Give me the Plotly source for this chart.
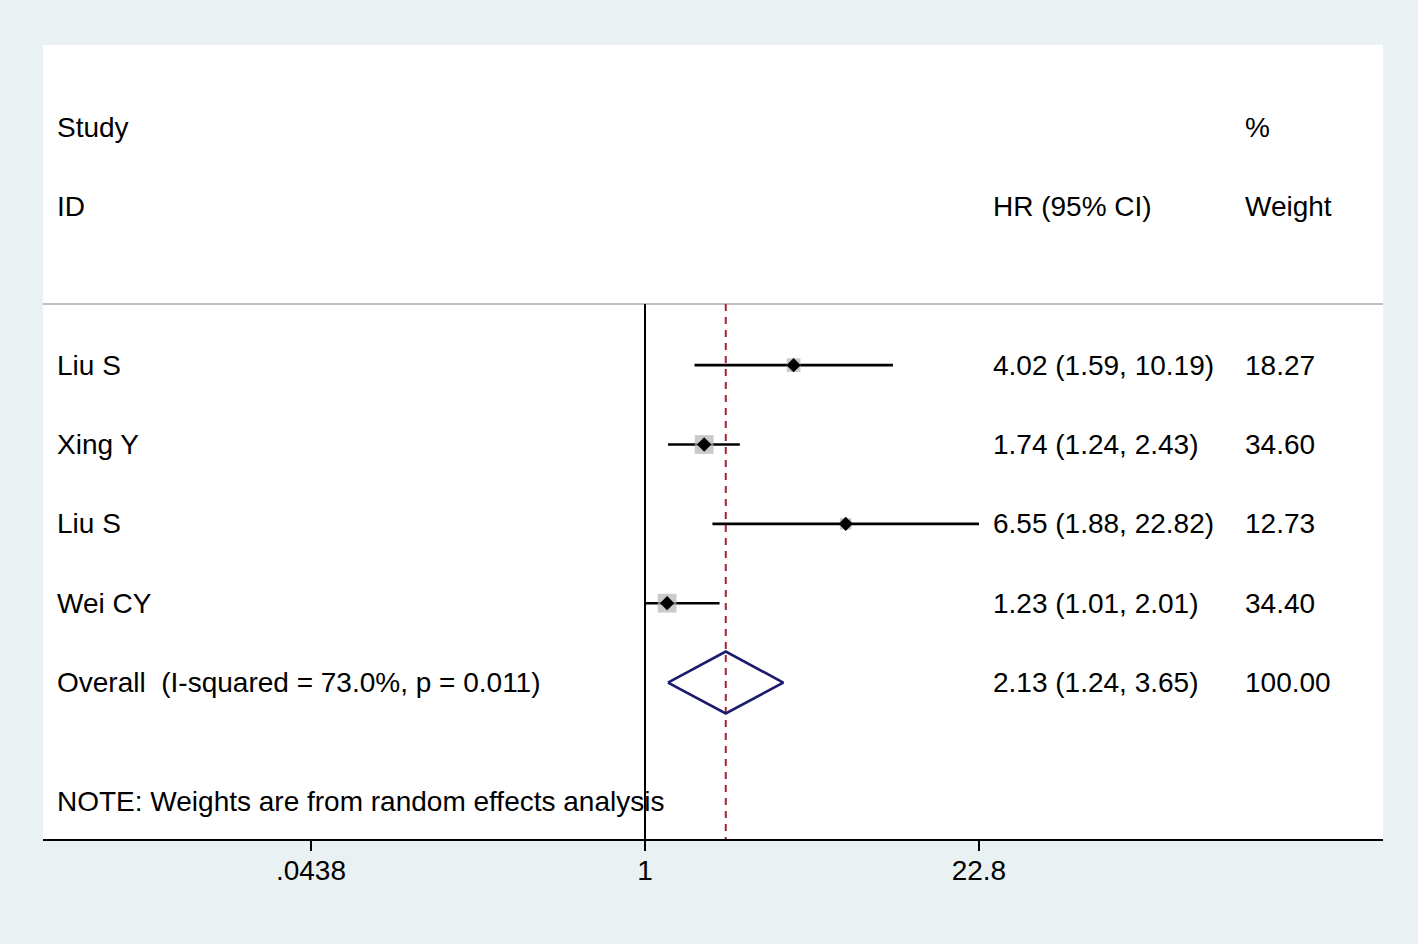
import plotly.graph_objects as go
import math

# ---------------- data ----------------
studies = ["Liu S", "Xing Y", "Liu S", "Wei CY"]
hr = [4.02, 1.74, 6.55, 1.23]
lo = [1.59, 1.24, 1.88, 1.01]
hi = [10.19, 2.43, 22.82, 2.01]
weights = [18.27, 34.60, 12.73, 34.40]

overall_label = "Overall  (I-squared = 73.0%, p = 0.011)"
overall_hr = 2.13
overall_lo = 1.24
overall_hi = 3.65
overall_weight = 100.00

tick_vals = [0.0438, 1, 22.8]
tick_text = [".0438", "1", "22.8"]

note = "NOTE: Weights are from random effects analysis"

# row positions (row units)
study_rows = [3, 4, 5, 6]
overall_row = 7
header_rows = [0, 1]
sep_row = 2.23
note_row = 8.5
y_top, y_bottom = -1.035, 8.972

FONT = "Liberation Sans, Arial, Helvetica, sans-serif"
FS = 28

fig = go.Figure()

# vertical null line at 1
fig.add_trace(go.Scatter(x=[1, 1], y=[sep_row, y_bottom], mode="lines",
                         line=dict(color="black", width=2), hoverinfo="skip", showlegend=False))
# overall effect dashed line
fig.add_trace(go.Scatter(x=[overall_hr, overall_hr], y=[sep_row, y_bottom], mode="lines",
                         line=dict(color="#A8232E", width=2, dash="7px,6px"), hoverinfo="skip", showlegend=False))

# CI lines
cx, cy = [], []
for l, h, r in zip(lo, hi, study_rows):
    cx += [l, h, None]
    cy += [r, r, None]
fig.add_trace(go.Scatter(x=cx, y=cy, mode="lines", line=dict(color="black", width=2.6),
                         hoverinfo="skip", showlegend=False))

# weight boxes
fig.add_trace(go.Scatter(x=hr, y=study_rows, mode="markers",
                         marker=dict(symbol="square", color="#B3B3B3",
                                     size=[3.2 * math.sqrt(w) for w in weights], line=dict(width=0)),
                         hoverinfo="skip", showlegend=False))
# point estimates
fig.add_trace(go.Scatter(x=hr, y=study_rows, mode="markers",
                         marker=dict(symbol="diamond", color="black", size=11, line=dict(width=0)),
                         hoverinfo="skip", showlegend=False))

# overall diamond
dh = 0.39
fig.add_trace(go.Scatter(x=[overall_lo, overall_hr, overall_hi, overall_hr, overall_lo],
                         y=[overall_row, overall_row - dh, overall_row, overall_row + dh, overall_row],
                         mode="lines", line=dict(color="#1B1B6E", width=2.6),
                         hoverinfo="skip", showlegend=False))

# separator line
fig.add_shape(type="line", xref="paper", yref="y", x0=0, x1=1, y0=sep_row, y1=sep_row,
              line=dict(color="#BFBFBF", width=2), layer="below")

# text columns
col_study, col_hr, col_w = 0.0090, 0.7075, 0.8955

def txt(x, y, s):
    fig.add_annotation(x=x, y=y, xref="paper", yref="y", text=s, showarrow=False,
                       xanchor="left", yanchor="middle", font=dict(family=FONT, size=FS, color="black"))

txt(col_study, header_rows[0], "Study")
txt(col_study, header_rows[1], "ID")
txt(col_hr, header_rows[1], "HR (95% CI)")
txt(col_w, header_rows[0], "%")
txt(col_w, header_rows[1], "Weight")

for name, h, l, u, w, r in zip(studies, hr, lo, hi, weights, study_rows):
    txt(col_study, r, name)
    txt(col_hr, r, f"{h:.2f} ({l:.2f}, {u:.2f})")
    txt(col_w, r, f"{w:.2f}")

txt(col_study, overall_row, overall_label)
txt(col_hr, overall_row, f"{overall_hr:.2f} ({overall_lo:.2f}, {overall_hi:.2f})")
txt(col_w, overall_row, f"{overall_weight:.2f}")
txt(col_study, note_row, note)

fig.update_layout(
    width=1418, height=944,
    margin=dict(l=43, r=35, t=45, b=105),
    paper_bgcolor="#E9F1F3", plot_bgcolor="white",
    font=dict(family=FONT, size=FS, color="black"),
    showlegend=False,
    xaxis=dict(type="log", range=[-2.448, 3.001], tickvals=tick_vals, ticktext=tick_text,
               ticks="outside", ticklen=10, tickwidth=1.5, tickcolor="black",
               showline=True, linecolor="black", linewidth=2, mirror=False,
               showgrid=False, zeroline=False, ticklabelstandoff=-5,
               tickfont=dict(family=FONT, size=FS, color="black")),
    yaxis=dict(range=[y_bottom, y_top], visible=False, showgrid=False, zeroline=False),
)

fig.write_html("out.html", config={"displayModeBar": False},
               post_script="document.body.style.margin='0';document.body.style.background='#E9F1F3';")
